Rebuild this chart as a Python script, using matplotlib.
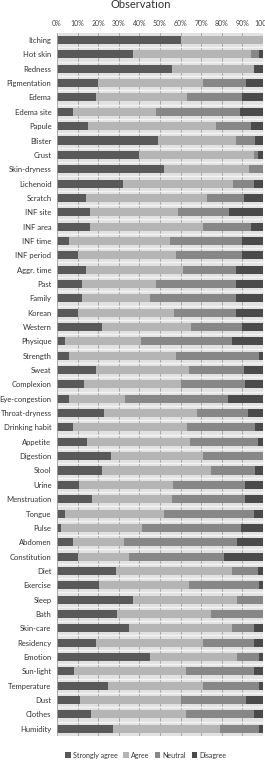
import numpy as np
import matplotlib
matplotlib.use("Agg")
import matplotlib.pyplot as plt

plt.rcParams['font.family'] = ['Lato', 'DejaVu Sans']

categories = ['Itching', 'Hot skin', 'Redness', 'Pigmentation', 'Edema', 'Edema site',
              'Papule', 'Blister', 'Crust', 'Skin-dryness', 'Lichenoid', 'Scratch',
              'INF site', 'INF area', 'INF time', 'INF period', 'Aggr. time', 'Past',
              'Family', 'Korean', 'Western', 'Physique', 'Strength', 'Sweat',
              'Complexion', 'Eye-congestion', 'Throat-dryness', 'Drinking habit',
              'Appetite', 'Digestion', 'Stool', 'Urine', 'Menstruation', 'Tongue',
              'Pulse', 'Abdomen', 'Constitution', 'Diet', 'Exercise', 'Sleep', 'Bath',
              'Skin-care', 'Residency', 'Emotion', 'Sun-light', 'Temperature', 'Dust',
              'Clothes', 'Humidity']

strongly_agree = [60, 37, 56, 20, 19, 8, 15, 49, 40, 52, 32, 14,
                  16, 16, 6, 10, 14, 12, 12, 10, 22, 4, 6, 19,
                  13, 6, 23, 8, 14.5, 26, 22, 10.5, 17, 4,
                  2, 8, 10, 28.5, 20.5, 37, 29, 35, 19, 45, 8.5, 25, 11, 16.5, 27]
agree = [40, 57, 39.5, 51, 44, 40, 62, 38, 55.5, 41.5, 53.5, 59,
         43, 55, 49, 48, 47, 36, 33, 47, 43, 37, 52, 45,
         47, 27, 45, 55, 50, 45, 53, 46, 39, 48,
         39.5, 24.5, 25, 56.5, 43.5, 50.5, 46, 50, 52, 42.5, 54, 46, 49, 46, 52]
neutral = [0, 4, 0, 21, 27, 41, 17, 9, 2, 6.5, 10, 18,
           24.5, 23, 35, 32, 26, 39, 42, 30, 25, 44, 40, 27,
           31.5, 50, 25, 33, 33, 29, 21, 35, 35.5, 43.5,
           48, 55, 46, 12.5, 34, 12.5, 25, 10.5, 24.5, 10.5, 33, 27, 32, 33, 19]
disagree = [0, 2, 4.5, 8, 10, 11, 6, 4, 2.5, 0, 4.5, 9,
            16.5, 6, 10, 10, 13, 13, 13, 13, 10, 15, 2, 9,
            8.5, 17, 7, 4, 2.5, 0, 4, 8.5, 8.5, 4.5,
            10.5, 12.5, 19, 2.5, 2, 0, 0, 4.5, 4.5, 2, 4.5, 2, 8, 4.5, 2]

series = [('Strongly agree', strongly_agree, '#595959'),
          ('Agree', agree, '#b5b5b5'),
          ('Neutral', neutral, '#878787'),
          ('Disagree', disagree, '#4a4a4a')]

fig = plt.figure(figsize=(2.65, 7.65), dpi=100)
ax = fig.add_axes([0.215, 0.038, 0.777, 0.919])
ax.set_facecolor('#e2e2e2')

y = np.arange(len(categories))
left = np.zeros(len(categories))
for name, vals, col in series:
    vals = np.array(vals, dtype=float)
    ax.barh(y, vals, left=left, height=0.56, color=col, label=name, zorder=3)
    left += vals

ax.set_xlim(0, 100)
ax.set_ylim(len(categories) - 0.5, -0.5)
ax.set_yticks(y)
ax.set_yticklabels(categories, fontsize=5.5, color='#333333')
ax.set_xticks(np.arange(0, 101, 10))
ax.set_xticklabels(['%d%%' % v for v in range(0, 101, 10)], fontsize=5, color='#444444')
ax.xaxis.tick_top()
ax.tick_params(length=0)
ax.tick_params(axis='y', pad=4)
ax.tick_params(axis='x', pad=4)

# vertical grid and category separators
for xv in range(10, 101, 10):
    ax.axvline(xv, color='#a0a0a0', lw=0.6, zorder=1)
for yv in np.arange(0.5, len(categories) - 0.5, 1.0):
    ax.axhline(yv, color='#f4f4f4', lw=1.0, zorder=2)
ax.axvline(0, color='#a0a0a0', lw=0.6, zorder=4)

for s in ax.spines.values():
    s.set_visible(False)

fig.text(0.53, 0.994, 'Observation', ha='center', va='center', fontsize=8, color='#333333')

fig.legend(loc='center', bbox_to_anchor=(0.55, 0.013), ncol=4, fontsize=5,
           frameon=False, handlelength=0.8, handleheight=0.8, handletextpad=0.3,
           columnspacing=0.8, labelcolor='#333333')

fig.savefig('out.png', dpi=100)
